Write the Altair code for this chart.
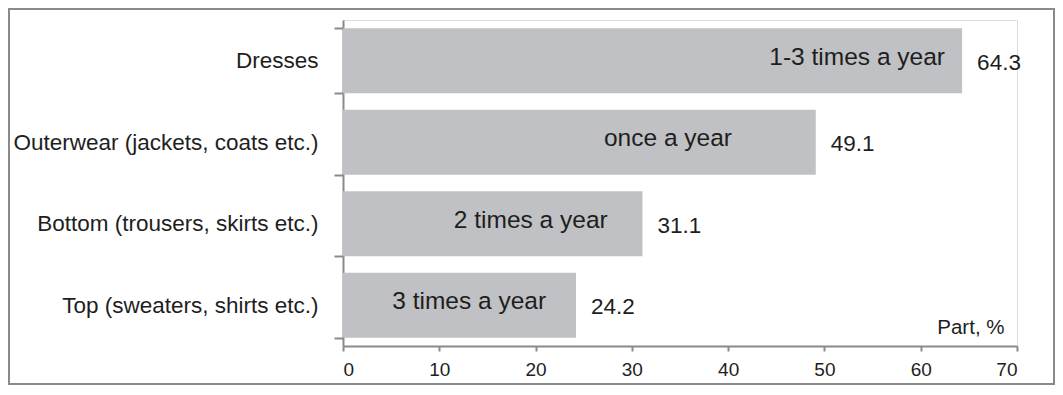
import altair as alt
import pandas as pd

categories = [
    "Dresses",
    "Outerwear (jackets, coats etc.)",
    "Bottom (trousers, skirts etc.)",
    "Top (sweaters, shirts etc.)",
]
values = [64.3, 49.1, 31.1, 24.2]
frequency = ["1-3 times a year", "once a year", "2 times a year", "3 times a year"]
label_at = [53.4, 33.75, 19.5, 13.1]
x_ticks = [0, 10, 20, 30, 40, 50, 60, 70]

df = pd.DataFrame({"cat": categories, "val": values, "freq": frequency, "lab": label_at})

FONT = "Liberation Sans"
AX = "#8a8a8a"
TXT = "#1e1e1e"

y_enc = alt.Y(
    "cat:N",
    sort=categories,
    scale=alt.Scale(paddingInner=0.2, paddingOuter=0.1),
    axis=alt.Axis(
        title=None,
        tickBand="extent",
        tickSize=9,
        tickColor=AX,
        tickWidth=2,
        domainColor=AX,
        domainWidth=2,
        labelPadding=16,
        labelFontSize=22.5,
        labelFont=FONT,
        labelColor=TXT,
        labelLimit=400,
    ),
)

x_enc = alt.X(
    "val:Q",
    scale=alt.Scale(domain=[0, 70], nice=False),
    axis=alt.Axis(
        values=x_ticks,
        title="Part, %",
        titleAlign="right",
        titleAnchor="end",
        titleX=661,
        titleY=-13,
        titleBaseline="alphabetic",
        titleFontWeight="normal",
        titleFontSize=20.5,
        titleFont=FONT,
        titleColor=TXT,
        tickSize=5,
        tickColor=AX,
        tickWidth=2,
        domainColor=AX,
        domainWidth=2,
        labelPadding=9,
        labelFontSize=19,
        labelFont=FONT,
        labelColor=TXT,
        grid=False,
    ),
)

base = alt.Chart(df)

frame = base.mark_rect(filled=False, stroke="#8a8a8a", strokeWidth=2).encode(
    x=alt.value(-334), x2=alt.value(711), y=alt.value(-11), y2=alt.value(364)
)

bars = base.mark_bar(color="#c0c1c4").encode(y=y_enc, x=x_enc)

inside = base.mark_text(font=FONT, fontSize=24.5, color=TXT, dy=-3).encode(
    y=alt.Y("cat:N", sort=categories), x=alt.X("lab:Q"), text="freq:N"
)

outside = base.mark_text(font=FONT, fontSize=22.5, color=TXT, align="left", dx=15, dy=2).encode(
    y=alt.Y("cat:N", sort=categories), x=alt.X("val:Q"), text=alt.Text("val:Q", format=".1f")
)

chart = (
    alt.layer(frame, bars, inside, outside)
    .properties(
        width=674,
        height=326,
        autosize=alt.AutoSizeParams(type="none"),
        padding={"left": 335, "top": 12, "right": 38, "bottom": 40},
    )
    .configure_view(stroke=None)
    .configure(background="white")
)

chart.save("out.html", embed_options={"renderer": "svg", "actions": False})
